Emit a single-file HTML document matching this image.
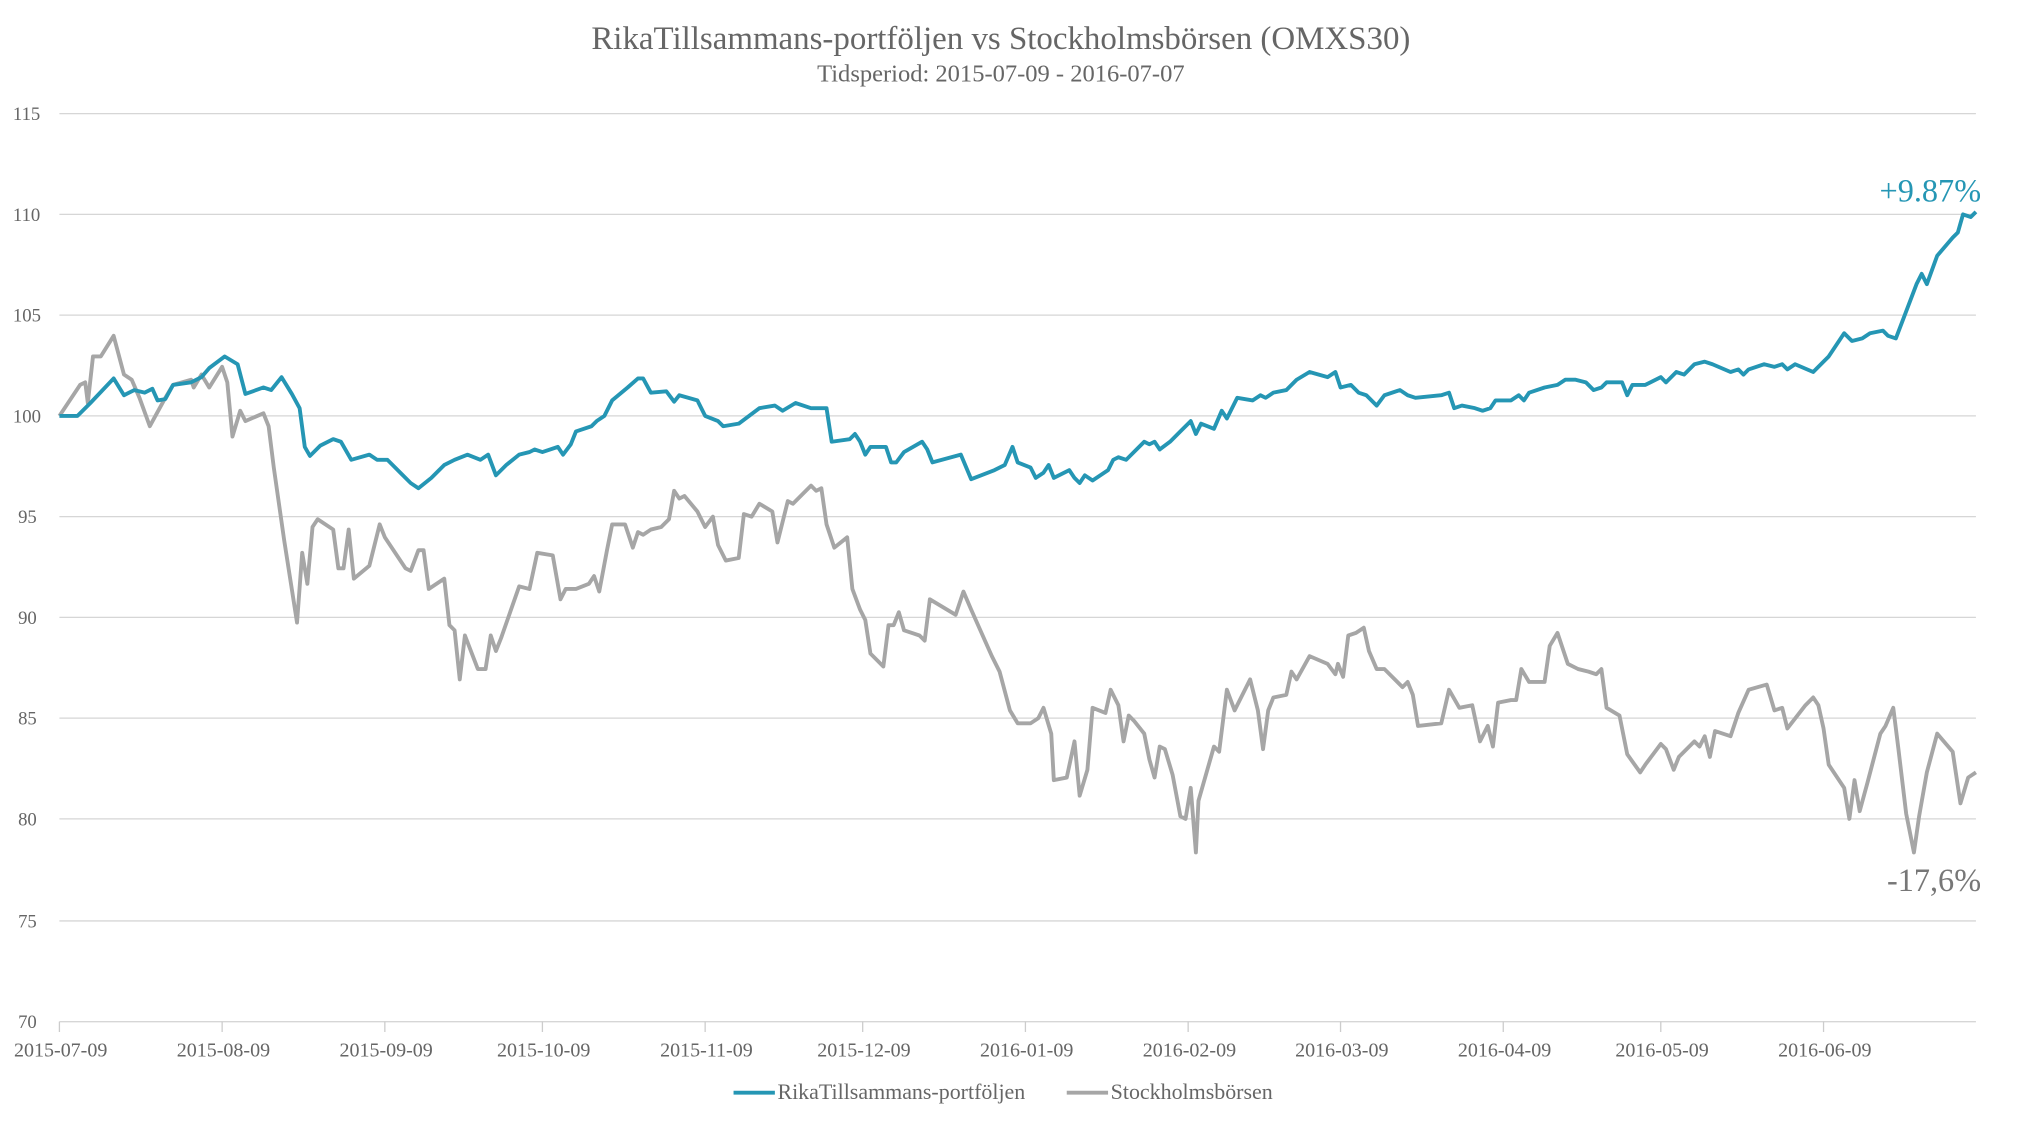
<!DOCTYPE html>
<html><head><meta charset="utf-8"><style>
html,body{margin:0;padding:0;background:#fff;width:2025px;height:1125px;overflow:hidden}
svg{display:block}
text{font-family:"Liberation Serif",serif;fill:#666}
</style></head><body>
<svg width="2025" height="1125" viewBox="0 0 1568 871" preserveAspectRatio="none">
<text x="775" y="38" text-anchor="middle" font-size="25.5">RikaTillsammans-portföljen vs Stockholmsbörsen (OMXS30)</text>
<text x="775" y="63" text-anchor="middle" font-size="19">Tidsperiod: 2015-07-09 - 2016-07-07</text>
<g stroke="#d6d6d6" stroke-width="1">
<line x1="46" x2="1530" y1="88" y2="88"/><line x1="46" x2="1530" y1="166" y2="166"/><line x1="46" x2="1530" y1="244" y2="244"/><line x1="46" x2="1530" y1="322" y2="322"/><line x1="46" x2="1530" y1="400" y2="400"/><line x1="46" x2="1530" y1="478" y2="478"/><line x1="46" x2="1530" y1="556" y2="556"/><line x1="46" x2="1530" y1="634" y2="634"/><line x1="46" x2="1530" y1="713" y2="713"/><line x1="46" x2="1530" y1="791" y2="791"/>
</g>
<g stroke="#ccc" stroke-width="1">
<line x1="46" x2="46" y1="791" y2="799"/><line x1="172" x2="172" y1="791" y2="799"/><line x1="298" x2="298" y1="791" y2="799"/><line x1="420" x2="420" y1="791" y2="799"/><line x1="546" x2="546" y1="791" y2="799"/><line x1="668" x2="668" y1="791" y2="799"/><line x1="794" x2="794" y1="791" y2="799"/><line x1="920" x2="920" y1="791" y2="799"/><line x1="1038" x2="1038" y1="791" y2="799"/><line x1="1164" x2="1164" y1="791" y2="799"/><line x1="1286" x2="1286" y1="791" y2="799"/><line x1="1412" x2="1412" y1="791" y2="799"/>
</g>
<g font-size="14.5" text-anchor="start">
<text x="10" y="93">115</text><text x="10" y="171">110</text><text x="10" y="249">105</text><text x="10" y="327">100</text><text x="14" y="405">95</text><text x="14" y="483">90</text><text x="14" y="561">85</text><text x="14" y="639">80</text><text x="14" y="718">75</text><text x="14" y="796">70</text>
</g>
<g font-size="15.5" text-anchor="middle">
<text x="47" y="818">2015-07-09</text><text x="173" y="818">2015-08-09</text><text x="299" y="818">2015-09-09</text><text x="421" y="818">2015-10-09</text><text x="547" y="818">2015-11-09</text><text x="669" y="818">2015-12-09</text><text x="795" y="818">2016-01-09</text><text x="921" y="818">2016-02-09</text><text x="1039" y="818">2016-03-09</text><text x="1165" y="818">2016-04-09</text><text x="1287" y="818">2016-05-09</text><text x="1413" y="818">2016-06-09</text>
</g>
<polyline fill="none" stroke="#a6a6a6" stroke-width="3" stroke-linejoin="round" points="46,322 62,298 66,296 68,312 72,276 78,276 88,260 96,290 102,294 108,308 116,330 128,308 134,298 148,294 150,300 156,290 162,300 172,284 176,296 180,338 186,318 190,326 204,320 208,330 212,362 220,418 230,482 234,428 238,452 242,408 246,402 258,410 262,440 266,440 270,410 274,448 286,438 294,406 298,416 306,428 314,440 318,442 324,426 328,426 332,456 344,448 348,484 352,488 356,526 360,492 370,518 376,518 380,492 384,504 388,494 402,454 410,456 416,428 428,430 434,464 438,456 446,456 456,452 460,446 464,458 470,426 474,406 484,406 490,424 494,412 498,414 504,410 512,408 518,402 522,380 526,386 530,384 540,396 546,408 552,400 556,422 562,434 572,432 576,398 582,400 588,390 598,396 602,420 610,388 614,390 628,376 632,380 636,378 640,406 646,424 656,416 660,456 666,472 670,480 674,506 684,516 688,484 692,484 696,474 700,488 712,492 716,496 720,464 740,476 746,458 752,472 760,490 768,508 774,520 782,550 788,560 798,560 804,556 808,548 814,568 816,604 826,602 832,574 836,616 842,596 846,548 856,552 860,534 866,546 870,574 874,554 878,558 886,568 890,588 894,602 898,578 902,580 908,600 914,632 918,634 922,610 926,660 928,620 940,578 944,582 950,534 956,550 968,526 974,550 978,580 982,550 986,540 996,538 1000,520 1004,526 1014,508 1028,514 1034,522 1036,514 1040,524 1044,492 1050,490 1056,486 1060,504 1066,518 1072,518 1080,526 1086,532 1090,528 1094,538 1098,562 1116,560 1122,534 1130,548 1140,546 1146,574 1152,562 1156,578 1160,544 1170,542 1174,542 1178,518 1184,528 1196,528 1200,500 1206,490 1214,514 1222,518 1230,520 1236,522 1240,518 1244,548 1254,554 1260,584 1270,598 1274,592 1286,576 1290,580 1296,596 1300,586 1312,574 1316,578 1320,570 1324,586 1328,566 1340,570 1346,552 1354,534 1368,530 1374,550 1380,548 1384,564 1398,546 1404,540 1408,546 1412,564 1416,592 1428,610 1432,634 1436,604 1440,628 1446,606 1456,568 1460,562 1466,548 1470,580 1476,630 1482,660 1486,632 1492,598 1500,568 1512,582 1518,622 1524,602 1530,598"/>
<polyline fill="none" stroke="#2596b4" stroke-width="3" stroke-linejoin="round" points="46,322 60,322 70,312 88,293 96,306 104,302 112,304 118,301 122,310 128,309 134,298 148,296 156,292 162,285 174,276 184,282 190,305 204,300 210,302 218,292 226,305 232,316 236,346 240,353 248,345 258,340 264,342 272,356 286,352 292,356 300,356 310,366 318,374 324,378 334,370 344,360 352,356 362,352 372,356 378,352 384,368 392,360 402,352 410,350 414,348 420,350 432,346 436,352 442,344 446,334 458,330 462,326 468,322 474,310 486,300 494,293 498,293 504,304 516,303 522,311 526,306 540,310 546,322 556,326 560,330 572,328 580,322 588,316 600,314 606,318 616,312 628,316 634,316 640,316 644,342 658,340 662,336 666,342 670,352 674,346 686,346 690,358 694,358 700,350 714,342 718,348 722,358 744,352 752,371 770,364 778,360 784,346 788,358 798,362 802,370 808,366 812,360 816,370 828,364 832,370 836,374 840,368 846,372 858,364 862,356 866,354 872,356 880,348 886,342 890,344 894,342 898,348 906,342 914,334 922,326 926,336 930,328 940,332 946,318 950,324 958,308 970,310 976,306 980,308 986,304 996,302 1004,294 1014,288 1028,292 1034,288 1038,300 1046,298 1052,304 1058,306 1066,314 1072,306 1084,302 1090,306 1096,308 1116,306 1122,304 1126,316 1132,314 1142,316 1148,318 1154,316 1158,310 1170,310 1176,306 1180,310 1184,304 1196,300 1206,298 1212,294 1220,294 1228,296 1234,302 1240,300 1244,296 1256,296 1260,306 1264,298 1274,298 1286,292 1290,296 1298,288 1304,290 1312,282 1320,280 1326,282 1340,288 1346,286 1350,290 1354,286 1366,282 1374,284 1380,282 1384,286 1390,282 1404,288 1412,280 1416,276 1428,258 1434,264 1442,262 1448,258 1458,256 1462,260 1468,262 1484,220 1488,212 1492,220 1500,198 1512,184 1516,180 1520,166 1526,168 1530,164"/>
<text x="1534" y="156" text-anchor="end" font-size="25" style="fill:#2596b4">+9.87%</text>
<text x="1534" y="690" text-anchor="end" font-size="25" style="fill:#777">-17,6%</text>
<line x1="568" x2="600" y1="846" y2="846" stroke="#2596b4" stroke-width="3"/>
<text x="602" y="851" font-size="17">RikaTillsammans-portföljen</text>
<line x1="826" x2="858" y1="846" y2="846" stroke="#a6a6a6" stroke-width="3"/>
<text x="860" y="851" font-size="17">Stockholmsbörsen</text>
</svg>
</body></html>
